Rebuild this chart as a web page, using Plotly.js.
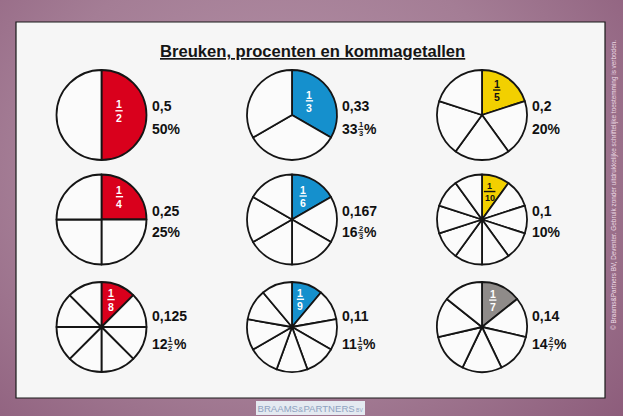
<!DOCTYPE html>
<html><head><meta charset="utf-8">
<script src="https://cdn.plot.ly/plotly-3.0.1.min.js"></script>
<style>
html,body{margin:0;padding:0;overflow:hidden;}
#bg{position:absolute;left:0;top:0;width:623px;height:416px;
 background:radial-gradient(ellipse 75% 95% at 45% 40%, #b795aa 0%, #a47d95 55%, #8b5a79 100%);}
#chart{position:absolute;left:0;top:0;width:623px;height:416px;}
</style></head><body><div id="bg"></div><div id="chart"></div>
<script>
// ---- data ----
const titleText = 'Breuken, procenten en kommagetallen';
const numerators = [1, 1, 1, 1, 1, 1, 1, 1, 1];
const denominators = [2, 3, 5, 4, 6, 10, 8, 9, 7];
const decimalLabels = ['0,5', '0,33', '0,2', '0,25', '0,167', '0,1', '0,125', '0,11', '0,14'];
const percentWhole = ['50', '33', '20', '25', '16', '10', '12', '11', '14'];
const percentFracNum = ['', '1', '', '', '2', '', '1', '1', '2'];
const percentFracDen = ['', '3', '', '', '3', '', '2', '9', '7'];
const sliceColors = ['#d9001c', '#1590cd', '#f2d000', '#d9001c', '#1590cd', '#f2d000', '#d9001c', '#1590cd', '#8f8b89'];
const sliceTextColors = ['#ffffff', '#ffffff', '#111111', '#ffffff', '#ffffff', '#111111', '#ffffff', '#ffffff', '#ffffff'];
const copyrightText = '© Braams&Partners BV, Deventer. Gebruik zonder uitdrukkelijke schriftelijke toestemming is verboden.';
const watermarkText = 'BRAAMS<span style="font-size:8px">&</span>PARTNERS<span style="font-size:5px"> BV</span>';

// ---- layout helpers ----
const W = 623, H = 416;
const colX = [101.5, 292, 482], rowY = [115, 219.5, 327], R = 45;
const decOff = [-9.3, -8.3, -11.3], pctOff = [13.5, 12.5, 16.5];
const px = x => x / W, py = y => 1 - y / H;
const FONT = '"Liberation Sans", Arial, Helvetica, sans-serif';
const ctx = document.createElement('canvas').getContext('2d');
function tw(t, size) { ctx.font = 'bold ' + size + 'px ' + FONT; return ctx.measureText(t).width; }

const traces = [], annotations = [], shapes = [];
shapes.push({type: 'rect', xref: 'paper', yref: 'paper', x0: px(16), x1: px(605), y0: py(398), y1: py(22),
  fillcolor: '#f6f6f6', line: {color: '#1a1a1a', width: 1.2}, layer: 'below'});

function ann(x, y, text, size, color, opts) {
  annotations.push(Object.assign({xref: 'paper', yref: 'paper', x: px(x), y: py(y), text: text, showarrow: false,
    borderpad: 0, borderwidth: 0, xanchor: 'center', yanchor: 'middle',
    font: {family: FONT, size: size, color: color}}, opts || {}));
}
function bar(x0, x1, y, color, w) {
  shapes.push({type: 'line', xref: 'paper', yref: 'paper', x0: px(x0), x1: px(x1), y0: py(y), y1: py(y),
    line: {color: color, width: w}});
}

denominators.forEach((n, i) => {
  const r = Math.floor(i / 3), c = i % 3, cx = colX[c], cy = rowY[r];
  const vals = new Array(n).fill(1);
  const cols = vals.map((v, k) => k < numerators[i] ? sliceColors[i] : '#fbfbfb');
  traces.push({type: 'pie', values: vals, sort: false, direction: 'clockwise', rotation: 0,
    textinfo: 'none', hoverinfo: 'skip', showlegend: false,
    marker: {colors: cols, line: {color: '#151515', width: 1.8}},
    domain: {x: [px(cx - R), px(cx + R)], y: [py(cy + R), py(cy - R)]}});

  // fraction inside the coloured slice
  const ang = 0.85 * Math.PI / n;
  const d = n === 2 ? 18 : (n === 3 ? 22.5 : (n === 6 ? 26 : 29));
  const fx = cx + d * Math.sin(ang), fy = cy - d * Math.cos(ang);
  const fs = n >= 10 ? 9 : 10.5;
  const tc = sliceTextColors[i];
  const num = String(numerators[i]), den = String(n);
  ann(fx, fy - 0.6 * fs, '<b>' + num + '</b>', fs, tc);
  ann(fx, fy + 0.68 * fs, '<b>' + den + '</b>', fs, tc);
  const bw = Math.max(tw(num, fs), tw(den, fs)) + 1.5;
  bar(fx - bw / 2, fx + bw / 2, fy, tc, 1.4);

  // decimal and percent labels
  const lx = cx + 50;
  ann(lx, cy + decOff[r], '<b>' + decimalLabels[i] + '</b>', 14, '#111111', {xanchor: 'left'});
  const py0 = cy + pctOff[r];
  if (percentFracNum[i]) {
    ann(lx, py0, '<b>' + percentWhole[i] + '</b>', 14, '#111111', {xanchor: 'left'});
    const w = tw(percentWhole[i], 14);
    const sf = 7.5;
    const fw = Math.max(tw(percentFracNum[i], sf), tw(percentFracDen[i], sf)) + 1;
    const fcx = lx + w + 0.5 + fw / 2;
    ann(fcx, py0 - 3.6, '<b>' + percentFracNum[i] + '</b>', sf, '#111111');
    ann(fcx, py0 + 4.6, '<b>' + percentFracDen[i] + '</b>', sf, '#111111');
    bar(fcx - fw / 2, fcx + fw / 2, py0 + 0.8, '#111111', 1);
    ann(lx + w + fw + 1.5, py0, '<b>%</b>', 14, '#111111', {xanchor: 'left'});
  } else {
    ann(lx, py0, '<b>' + percentWhole[i] + '%</b>', 14, '#111111', {xanchor: 'left'});
  }
});

ann(312.7, 51, '<u><b>' + titleText + '</b></u>', 16.6, '#151515');
ann(614, 185, copyrightText, 6.4, '#eedbe6', {textangle: -90});
ann(310.5, 407.5, watermarkText, 9.6, '#8ea2c0', {bgcolor: '#e4eaf1', borderpad: 1.5});

Plotly.newPlot('chart', traces, {
  width: W, height: H, margin: {l: 0, r: 0, t: 0, b: 0},
  paper_bgcolor: 'rgba(0,0,0,0)', plot_bgcolor: 'rgba(0,0,0,0)',
  showlegend: false, shapes: shapes, annotations: annotations,
  font: {family: FONT}
}, {staticPlot: true, displayModeBar: false});
</script></body></html>
